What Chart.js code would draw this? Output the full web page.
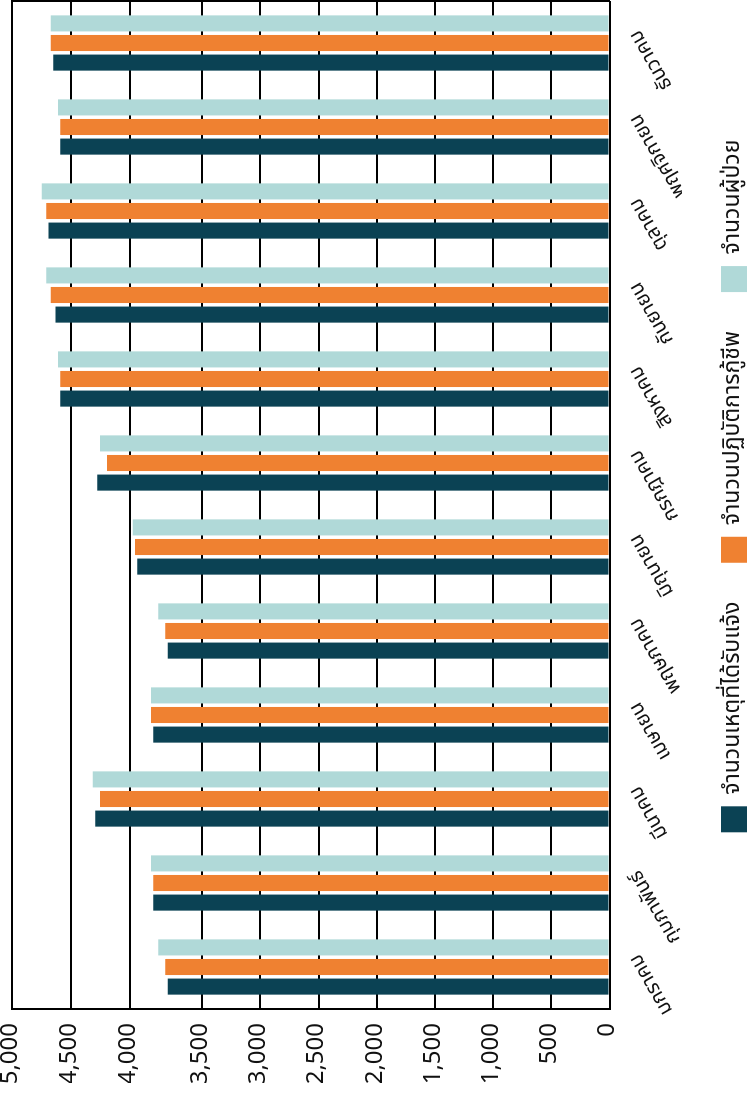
<!DOCTYPE html>
<html><head><meta charset="utf-8">
<script src="https://cdn.jsdelivr.net/npm/chart.js@4/dist/chart.umd.min.js"></script>
<style>
html,body{margin:0;padding:0;width:748px;height:1093px;overflow:hidden;background:#fff;}
#frame{position:absolute;left:0;top:0;width:1093px;height:757px;transform-origin:0 0;transform:translate(0,1093px) rotate(-90deg);}
</style></head><body>
<div id="frame"><canvas id="c" width="1093" height="757"></canvas></div>
<script>
// ---- data ----
const months = ['มกราคม','กุมภาพันธ์','มีนาคม','เมษายน','พฤษภาคม','มิถุนายน','กรกฎาคม','สิงหาคม','กันยายน','ตุลาคม','พฤศจิกายน','ธันวาคม'];
const seriesNames = ['จำนวนเหตุที่ได้รับแจ้ง','จำนวนปฏิบัติการกู้ชีพ','จำนวนผู้ป่วย'];
const reported   = [3738,3837,4293,3837,3738,3948,4276,4591,4630,4689,4591,4650];
const operations = [3754,3837,4253,3853,3754,3963,4193,4591,4670,4709,4591,4670];
const patients   = [3803,3853,4313,3853,3803,3979,4253,4610,4709,4748,4610,4670];
const valueTicks = [0,500,1000,1500,2000,2500,3000,3500,4000,4500,5000];

// value axis as drawn in the reference (wider gap between 3,500 and 4,000)
const axisBreaks = [[0,0],[3500,0.6817],[4000,0.8030],[5000,1]];
function toFrac(v){
  for(let i=1;i<axisBreaks.length;i++){
    const [v0,f0]=axisBreaks[i-1],[v1,f1]=axisBreaks[i];
    if(v<=v1||i===axisBreaks.length-1) return f0+(v-v0)/(v1-v0)*(f1-f0);
  }
}
function fromFrac(f){
  for(let i=1;i<axisBreaks.length;i++){
    const [v0,f0]=axisBreaks[i-1],[v1,f1]=axisBreaks[i];
    if(f<=f1||i===axisBreaks.length-1) return v0+(f-f0)/(f1-f0)*(v1-v0);
  }
}
class PiecewiseScale extends Chart.LinearScale {
  getPixelForValue(v){ return this.getPixelForDecimal(toFrac(v)); }
  getValueForPixel(p){ return fromFrac(this.getDecimalForPixel(p)); }
}
PiecewiseScale.id='piecewise';
PiecewiseScale.defaults=Chart.LinearScale.defaults;
Chart.register(PiecewiseScale);

const legendShift = 56;
const FONT = "'Noto Sans Thai','Noto Sans','Open Sans',sans-serif";
const ink = '#111111';

new Chart(document.getElementById('c'), {
  type:'bar',
  data:{
    labels: months,
    datasets:[
      {label:seriesNames[0], data:reported,   backgroundColor:'#0b4254'},
      {label:seriesNames[1], data:operations, backgroundColor:'#ef8131'},
      {label:seriesNames[2], data:patients,   backgroundColor:'#b0d9d8'}
    ]
  },
  options:{
    responsive:false, animation:false, devicePixelRatio:1, locale:'en-US',
    datasets:{bar:{categoryPercentage:0.70, barPercentage:0.82, borderWidth:0}},
    layout:{padding:{left:10,right:1,top:12,bottom:0}},
    plugins:{
      tooltip:{enabled:false},
      legend:{position:'bottom', labels:{boxWidth:26, boxHeight:26, padding:39, color:ink, font:{family:FONT, size:23}}}
    },
    scales:{
      x:{
        grid:{display:false, drawTicks:false},
        border:{display:false},
        ticks:{autoSkip:false, minRotation:30, maxRotation:30, padding:16, labelOffset:12, color:ink, font:{family:FONT, size:20}},
        afterFit(s){ s.height = 72.5; }
      },
      y:{
        type:'piecewise', min:0, max:5000,
        afterBuildTicks(s){ s.ticks = valueTicks.map(v=>({value:v})); },
        grid:{color:'#000', lineWidth:2, drawTicks:false},
        border:{display:true, color:'#000', width:2},
        ticks:{padding:14, color:ink, font:{family:FONT, size:24, lineHeight:1}, callback:v=>Number(v).toLocaleString('en-US')},
        afterFit(s){ s.width = 74; s.paddingTop = 0; s.paddingBottom = 0; }
      },
      y2:{
        position:'right', display:true,
        grid:{display:false, drawTicks:false},
        border:{display:true, color:'#000', width:2},
        ticks:{display:false},
        afterFit(s){ s.width = 0; }
      }
    }
  },
  plugins:[{id:'legendShift', afterLayout(chart){ if(chart.legend){ chart.legend.left += legendShift; chart.legend.right += legendShift; } }}]
});
</script>
</body></html>
